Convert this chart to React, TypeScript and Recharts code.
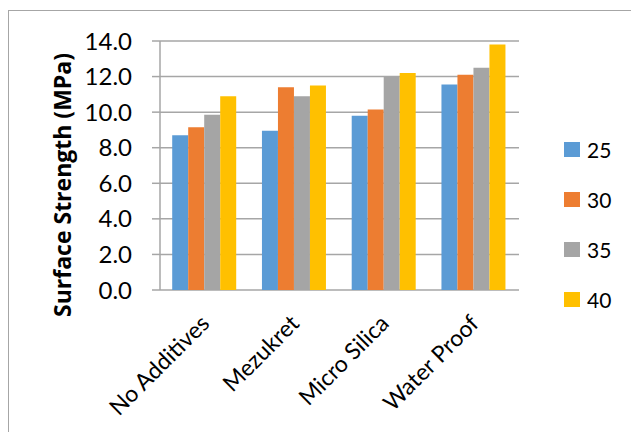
import { Bar, BarChart, CartesianGrid, Label, Legend, XAxis, YAxis } from "recharts";

const CATEGORIES = ["No Additives", "Mezukret", "Micro Silica", "Water Proof"];
const SERIES_NAMES = ["25", "30", "35", "40"];
const S25 = [8.7, 8.95, 9.8, 11.55];
const S30 = [9.15, 11.4, 10.15, 12.1];
const S35 = [9.85, 10.9, 12.0, 12.5];
const S40 = [10.9, 11.5, 12.2, 13.8];
const Y_TICKS = [0, 2, 4, 6, 8, 10, 12, 14];
const BOUNDARY_TICKS = [0, 1, 2, 3, 4];

const COLORS = ["#5B9BD5", "#ED7D31", "#A5A5A5", "#FFC000"];
const GRID = "#A6A6A6";
const FONT = "Lato, 'Open Sans', sans-serif";

const data = CATEGORIES.map((name, i) => ({
  name,
  s25: S25[i],
  s30: S30[i],
  s35: S35[i],
  s40: S40[i],
}));
const KEYS = ["s25", "s30", "s35", "s40"];

function CategoryTick({ x, y, payload }: { x?: number; y?: number; payload?: { value: string } }) {
  if (x === undefined || y === undefined || !payload) return null;
  const ax = x + 6;
  const ay = y + 27;
  return (
    <text
      x={ax}
      y={ay}
      textAnchor="end"
      transform={`rotate(-45, ${ax}, ${ay})`}
      style={{ fontSize: 23, fontFamily: FONT, fill: "#000" }}
    >
      {payload.value}
    </text>
  );
}

function LegendList() {
  return (
    <div style={{ fontFamily: FONT }}>
      {SERIES_NAMES.map((label, i) => (
        <div key={label} style={{ display: "flex", alignItems: "center", height: 50 }}>
          <span style={{ display: "inline-block", width: 16, height: 15, background: COLORS[i], marginRight: 7 }} />
          <span style={{ fontSize: 21, color: "#000" }}>{label}</span>
        </div>
      ))}
    </div>
  );
}

export default function App() {
  return (
    <div style={{ position: "relative", width: 631, height: 424, overflow: "hidden" }}>
      <div
        style={{
          position: "absolute",
          left: 0,
          top: 2,
          width: 660,
          height: 450,
          border: "1px solid #A6A6A6",
          boxSizing: "border-box",
        }}
      />
      <div style={{ position: "absolute", left: 0, top: 0 }}>
        <BarChart
          width={631}
          height={424}
          data={data}
          margin={{ top: 33, right: 45, left: 0, bottom: 0 }}
          barCategoryGap="13.6%"
          barGap={0}
        >
          <CartesianGrid vertical={false} stroke={GRID} strokeWidth={1.5} yAxisId="y" xAxisId="cat" />
          <XAxis
            xAxisId="frame"
            type="number"
            domain={[0, 4]}
            ticks={BOUNDARY_TICKS}
            height={0}
            tick={false}
            tickSize={8}
            axisLine={{ stroke: GRID, strokeWidth: 1.5 }}
            tickLine={{ stroke: GRID, strokeWidth: 1.5 }}
            allowDataOverflow
          />
          <XAxis
            xAxisId="cat"
            dataKey="name"
            height={142}
            axisLine={false}
            tickLine={false}
            interval={0}
            tick={<CategoryTick />}
          />
          <YAxis
            yAxisId="y"
            width={152}
            domain={[0, 14]}
            ticks={Y_TICKS}
            tickFormatter={(v: number) => v.toFixed(1)}
            tickSize={8}
            tickMargin={20}
            axisLine={{ stroke: GRID, strokeWidth: 1.5 }}
            tickLine={{ stroke: GRID, strokeWidth: 1.5 }}
            tick={{ fontSize: 24, fontFamily: FONT, fill: "#000" }}
          >
            <Label
              content={() => (
                <text
                  x={54}
                  y={177}
                  textAnchor="middle"
                  dominantBaseline="central"
                  transform="rotate(-90, 54, 177)"
                  style={{ fontSize: 23, fontWeight: 700, fontFamily: "'Open Sans', sans-serif", fill: "#000" }}
                >
                  Surface Strength (MPa)
                </text>
              )}
            />
          </YAxis>
          <Legend
            layout="vertical"
            align="right"
            verticalAlign="middle"
            content={<LegendList />}
            wrapperStyle={{ left: 556, top: 116, width: 75 }}
          />
          {KEYS.map((k, i) => (
            <Bar
              key={k}
              dataKey={k}
              name={SERIES_NAMES[i]}
              fill={COLORS[i]}
              xAxisId="cat"
              yAxisId="y"
              isAnimationActive={false}
            />
          ))}
        </BarChart>
      </div>
    </div>
  );
}
